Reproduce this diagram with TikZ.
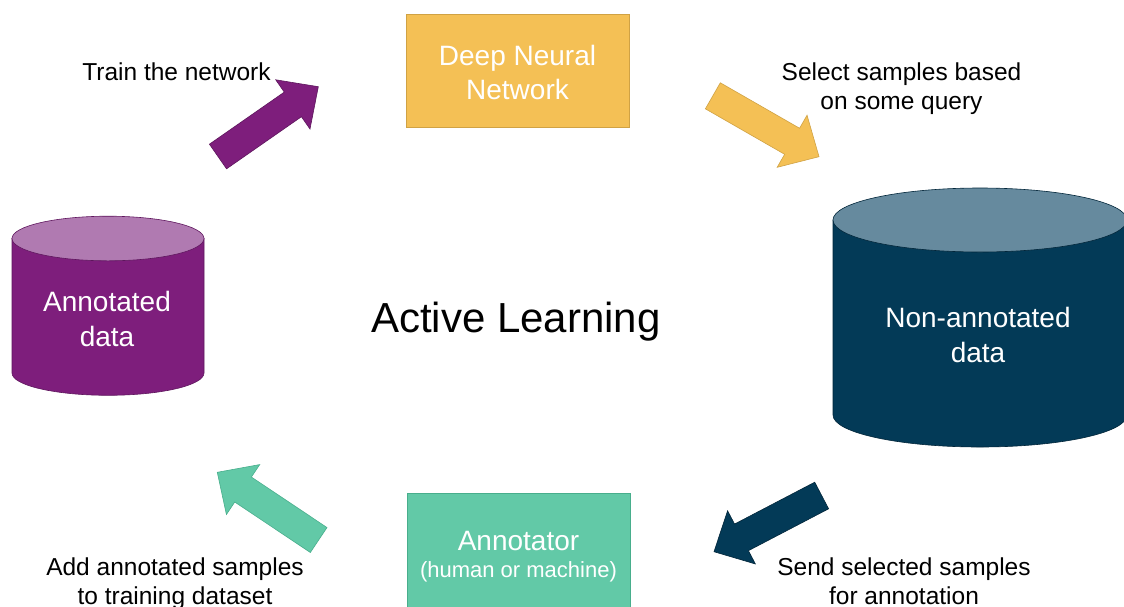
\documentclass[tikz,border=0pt]{standalone}
\usepackage{fontspec}
\setmainfont{Liberation Sans}
\usetikzlibrary{calc}
\definecolor{gold}{HTML}{F4C055}
\definecolor{goldline}{HTML}{D0A244}
\definecolor{mint}{HTML}{62C9A7}
\definecolor{mintline}{HTML}{48AE8C}
\definecolor{plum}{HTML}{7E1E7C}
\definecolor{plumtop}{HTML}{B07AB1}
\definecolor{plumline}{HTML}{5E165D}
\definecolor{navy}{HTML}{033A57}
\definecolor{navytop}{HTML}{668A9E}
\definecolor{navyline}{HTML}{02263A}
\newcommand{\blockarr}[3]{%
  \coordinate (bT) at #2; \coordinate (bP) at #3;
  \coordinate (bJ) at ($(bP)!31pt!(bT)$);
  \filldraw[#1] ($(bT)!15pt!90:(bP)$) -- ($(bJ)!15pt!90:(bP)$) -- ($(bJ)!30pt!90:(bP)$) -- (bP)
     -- ($(bJ)!30pt!-90:(bP)$) -- ($(bJ)!15pt!-90:(bP)$) -- ($(bT)!15pt!-90:(bP)$) -- cycle;}
\tikzset{
  lbl/.style={inner sep=0pt, anchor=base, text=black, font=\fontsize{24.5}{29}\selectfont},
  boxtxt/.style={inner sep=0pt, anchor=base, text=white, font=\fontsize{28}{34}\selectfont},
  subtxt/.style={inner sep=0pt, anchor=base, text=white, font=\fontsize{22}{26}\selectfont},
  titletxt/.style={inner sep=0pt, anchor=base, text=black, font=\fontsize{42}{50}\selectfont},
  arrline/.style={line width=0.6pt, line join=miter},
}
\begin{document}
\begin{tikzpicture}[x=1pt,y=-1pt]
\clip (0,0) rectangle (1124,606);
\fill[white] (0,0) rectangle (1124,606);

% Deep Neural Network box
\node[draw=goldline, fill=gold, line width=0.8pt, minimum width=223pt, minimum height=113pt, inner sep=0pt, anchor=north west] (dnn) at (406,14) {};
\node[boxtxt] (dnn1) at (517.5,65) {Deep Neural};
\node[boxtxt] (dnn2) at (517.5,99.3) {Network};

% Annotator box
\node[draw=mintline, fill=mint, line width=0.8pt, minimum width=223pt, minimum height=130pt, inner sep=0pt, anchor=north west] (ann) at (407,493) {};
\node[boxtxt] (ann1) at (518.5,550) {Annotator};
\node[subtxt] (ann2) at (518.5,577) {(human or machine)};

% Annotated data cylinder
\filldraw[fill=plum, draw=plumline, line width=0.6pt] (12,238.5) -- (12,373) .. controls (12,385.3) and (55,395.3) .. (108,395.3) .. controls (161,395.3) and (204,385.3) .. (204,373) -- (204,238.5) -- cycle;
\filldraw[fill=plumtop, draw=plumline, line width=0.6pt] (108,238.5) ellipse [x radius=96, y radius=22.3];
\node[boxtxt] (ad1) at (107,311.7) {Annotated};
\node[boxtxt] (ad2) at (107,346.7) {data};

% Non-annotated data cylinder
\filldraw[fill=navy, draw=navyline, line width=0.6pt] (833,220) -- (833,415) .. controls (833,432.7) and (898.8,447) .. (980,447) .. controls (1061.2,447) and (1127,432.7) .. (1127,415) -- (1127,220) -- cycle;
\filldraw[fill=navytop, draw=navyline, line width=0.6pt] (980,220) ellipse [x radius=147, y radius=32];
\node[boxtxt] (nd1) at (978,327) {Non-annotated};
\node[boxtxt] (nd2) at (978,362) {data};

% Title
\node[titletxt] (title) at (516,332.3) {Active Learning};

% Block arrows
\blockarr{fill=plum, draw=plumline, arrline}{(218,156.5)}{(318.3,86.7)}
\blockarr{fill=gold, draw=goldline, arrline}{(712.85,95.8)}{(819,156.7)}
\blockarr{fill=navy, draw=navyline, arrline}{(821.65,495.5)}{(714,551.7)}
\blockarr{fill=mint, draw=mintline, arrline}{(318.65,540)}{(217.3,472.3)}

% Labels
\node[lbl] (train) at (176.5,80.7) {Train the network};
\node[lbl] (sel1) at (901.5,80.5) {Select samples based};
\node[lbl] (sel2) at (901.5,109.5) {on some query};
\node[lbl] (add1) at (175,575.5) {Add annotated samples};
\node[lbl] (add2) at (175,604.5) {to training dataset};
\node[lbl] (send1) at (904,575.5) {Send selected samples};
\node[lbl] (send2) at (904,604.5) {for annotation};
\end{tikzpicture}
\end{document}
